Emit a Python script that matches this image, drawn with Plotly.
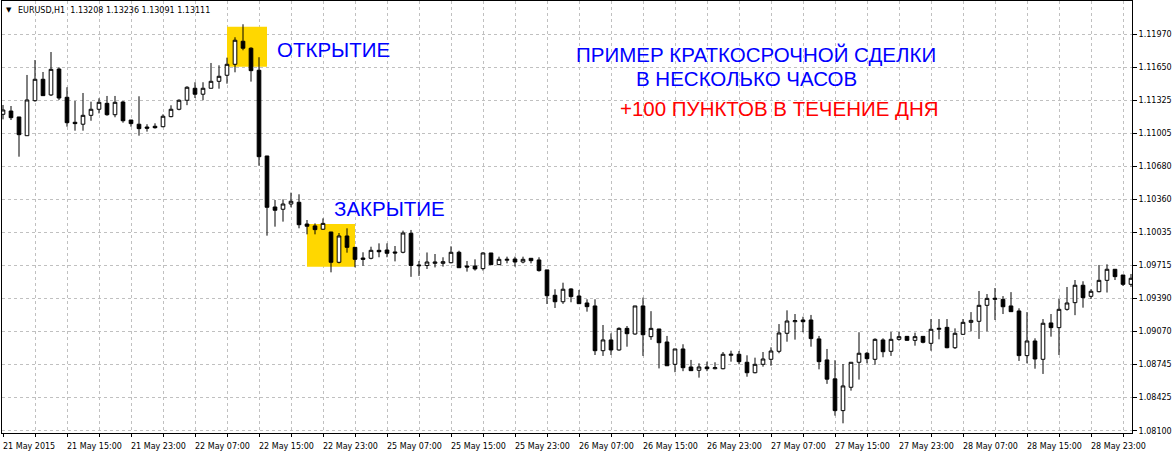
import plotly.graph_objects as go

# ---------------- data (EURUSD H1) ----------------
opens = [1.11189, 1.11221, 1.11163, 1.10980, 1.11322, 1.11531, 1.11378, 1.11631, 1.11355, 1.11111,
         1.11092, 1.11179, 1.11238, 1.11296, 1.11185, 1.11309, 1.11133, 1.11092, 1.11065, 1.11072,
         1.11068, 1.11166, 1.11238, 1.11326, 1.11443, 1.11385, 1.11443, 1.11511, 1.11570, 1.11677,
         1.11902, 1.11834, 1.11619, 1.10782, 1.10284, 1.10262, 1.10313, 1.10330, 1.10118, 1.10099,
         1.10067, 1.10040, 1.09744, 1.10001, 1.09890, 1.09786, 1.09783, 1.09861, 1.09864, 1.09845,
         1.09842, 1.10027, 1.09718, 1.09713, 1.09734, 1.09734, 1.09740, 1.09842, 1.09708, 1.09708,
         1.09682, 1.09835, 1.09721, 1.09764, 1.09776, 1.09747, 1.09783, 1.09767, 1.09670, 1.09422,
         1.09359, 1.09484, 1.09415, 1.09347, 1.09318, 1.08881, 1.08986, 1.08888, 1.09099, 1.09044,
         1.09318, 1.09018, 1.09093, 1.08966, 1.08748, 1.08898, 1.08722, 1.08690, 1.08722, 1.08705,
         1.08705, 1.08836, 1.08846, 1.08768, 1.08666, 1.08748, 1.08797, 1.08875, 1.09051, 1.09164,
         1.09181, 1.09181, 1.08996, 1.08791, 1.08606, 1.08296, 1.08524, 1.08768, 1.08856, 1.08797,
         1.08986, 1.08875, 1.08992, 1.09021, 1.08982, 1.09021, 1.08953, 1.09090, 1.09109, 1.08910,
         1.09041, 1.09158, 1.09168, 1.09324, 1.09382, 1.09382, 1.09318, 1.09269, 1.08833, 1.08976,
         1.08797, 1.09152, 1.09106, 1.09285, 1.09350, 1.09520, 1.09412, 1.09457, 1.09568, 1.09676,
         1.09620, 1.09529]
highs = [1.11280, 1.11270, 1.11163, 1.11573, 1.11719, 1.11602, 1.11797, 1.11647, 1.11453, 1.11319,
         1.11397, 1.11312, 1.11345, 1.11368, 1.11368, 1.11319, 1.11133, 1.11365, 1.11092, 1.11101,
         1.11189, 1.11277, 1.11335, 1.11463, 1.11502, 1.11502, 1.11690, 1.11667, 1.11742, 1.11941,
         1.12068, 1.11843, 1.11746, 1.10782, 1.10352, 1.10359, 1.10424, 1.10408, 1.10157, 1.10124,
         1.10173, 1.10040, 1.10030, 1.10076, 1.09890, 1.09842, 1.09896, 1.09929, 1.09929, 1.09903,
         1.10053, 1.10060, 1.09757, 1.09840, 1.09825, 1.09793, 1.09900, 1.09857, 1.09757, 1.09773,
         1.09842, 1.09835, 1.09799, 1.09799, 1.09799, 1.09799, 1.09783, 1.09793, 1.09670, 1.09481,
         1.09545, 1.09490, 1.09474, 1.09383, 1.09383, 1.09132, 1.09050, 1.09109, 1.09122, 1.09318,
         1.09399, 1.09267, 1.09093, 1.09025, 1.08898, 1.08944, 1.08791, 1.08758, 1.08774, 1.08768,
         1.08868, 1.08881, 1.08878, 1.08836, 1.08813, 1.08868, 1.08914, 1.09141, 1.09275, 1.09239,
         1.09213, 1.09230, 1.09025, 1.08898, 1.08788, 1.08751, 1.08768, 1.09061, 1.08868, 1.09002,
         1.09002, 1.09064, 1.09064, 1.09021, 1.09057, 1.09021, 1.09190, 1.09190, 1.09190, 1.09099,
         1.09190, 1.09258, 1.09464, 1.09434, 1.09493, 1.09414, 1.09453, 1.09295, 1.09258, 1.09002,
         1.09190, 1.09239, 1.09386, 1.09503, 1.09571, 1.09559, 1.09481, 1.09718, 1.09724, 1.09676,
         1.09620, 1.09630]
lows = [1.11140, 1.11133, 1.10775, 1.10980, 1.11312, 1.11371, 1.11368, 1.11329, 1.11068, 1.11029,
        1.11029, 1.11126, 1.11198, 1.11175, 1.11160, 1.11107, 1.11068, 1.10980, 1.11020, 1.11049,
        1.11062, 1.11160, 1.11228, 1.11278, 1.11348, 1.11326, 1.11443, 1.11439, 1.11488, 1.11599,
        1.11814, 1.11508, 1.10687, 1.10004, 1.10092, 1.10141, 1.10281, 1.10076, 1.10017, 1.10017,
        1.10060, 1.09646, 1.09734, 1.09838, 1.09695, 1.09710, 1.09773, 1.09793, 1.09793, 1.09753,
        1.09832, 1.09602, 1.09611, 1.09679, 1.09694, 1.09702, 1.09734, 1.09691, 1.09653, 1.09663,
        1.09663, 1.09721, 1.09718, 1.09734, 1.09702, 1.09734, 1.09734, 1.09653, 1.09337, 1.09298,
        1.09338, 1.09354, 1.09338, 1.09262, 1.08839, 1.08830, 1.08839, 1.08881, 1.08920, 1.09037,
        1.08830, 1.08987, 1.08708, 1.08734, 1.08671, 1.08681, 1.08686, 1.08618, 1.08681, 1.08699,
        1.08699, 1.08774, 1.08748, 1.08627, 1.08660, 1.08725, 1.08734, 1.08856, 1.08969, 1.08989,
        1.09061, 1.08920, 1.08699, 1.08557, 1.08247, 1.08172, 1.08491, 1.08599, 1.08758, 1.08744,
        1.08817, 1.08830, 1.08979, 1.08982, 1.08930, 1.08953, 1.08881, 1.08992, 1.08905, 1.08898,
        1.09034, 1.09070, 1.08996, 1.09070, 1.09181, 1.09239, 1.09262, 1.08781, 1.08758, 1.08705,
        1.08654, 1.09018, 1.08839, 1.09272, 1.09228, 1.09301, 1.09386, 1.09451, 1.09449, 1.09571,
        1.09513, 1.09504]
closes = [1.11231, 1.11156, 1.10990, 1.11329, 1.11531, 1.11371, 1.11628, 1.11348, 1.11107, 1.11098,
          1.11179, 1.11238, 1.11306, 1.11185, 1.11306, 1.11126, 1.11098, 1.11049, 1.11053, 1.11058,
          1.11170, 1.11238, 1.11326, 1.11453, 1.11385, 1.11443, 1.11511, 1.11560, 1.11677, 1.11912,
          1.11834, 1.11615, 1.10775, 1.10281, 1.10252, 1.10313, 1.10340, 1.10111, 1.10096, 1.10063,
          1.10124, 1.09744, 1.10001, 1.09890, 1.09773, 1.09773, 1.09861, 1.09847, 1.09832, 1.09835,
          1.10030, 1.09713, 1.09711, 1.09747, 1.09747, 1.09750, 1.09842, 1.09691, 1.09698, 1.09679,
          1.09835, 1.09721, 1.09773, 1.09773, 1.09747, 1.09773, 1.09760, 1.09663, 1.09418, 1.09359,
          1.09481, 1.09409, 1.09340, 1.09311, 1.08881, 1.08986, 1.08888, 1.09099, 1.09047, 1.09318,
          1.09037, 1.09099, 1.08959, 1.08734, 1.08898, 1.08715, 1.08686, 1.08722, 1.08705, 1.08715,
          1.08846, 1.08846, 1.08774, 1.08666, 1.08748, 1.08800, 1.08878, 1.09054, 1.09171, 1.09174,
          1.09164, 1.08999, 1.08774, 1.08603, 1.08296, 1.08537, 1.08768, 1.08856, 1.08803, 1.08992,
          1.08871, 1.08992, 1.09018, 1.08982, 1.09018, 1.08963, 1.09090, 1.09099, 1.08910, 1.09051,
          1.09158, 1.09177, 1.09324, 1.09392, 1.09392, 1.09310, 1.09262, 1.08833, 1.08976, 1.08800,
          1.09149, 1.09106, 1.09285, 1.09347, 1.09520, 1.09399, 1.09461, 1.09568, 1.09676, 1.09604,
          1.09529, 1.09588]

time_labels = ["21 May 2015", "21 May 15:00", "21 May 23:00", "22 May 07:00", "22 May 15:00",
               "22 May 23:00", "25 May 07:00", "25 May 15:00", "25 May 23:00", "26 May 07:00",
               "26 May 15:00", "26 May 23:00", "27 May 07:00", "27 May 15:00", "27 May 23:00",
               "28 May 07:00", "28 May 15:00", "28 May 23:00"]
label_step = 8  # bars between time labels

price_labels = ["1.08100", "1.08425", "1.08745", "1.09070", "1.09390", "1.09715", "1.10035",
                "1.10360", "1.10680", "1.11005", "1.11325", "1.11650", "1.11970"]

header_text = "EURUSD,H1\u00a0\u00a01.13208 1.13236 1.13091 1.13111"

# highlighted zones: (first bar, last bar, low price, high price)
zones = [(28, 33, 1.11654, 1.12044), (38, 44, 1.09701, 1.10118)]

notes = [
    dict(text="ОТКРЫТИЕ", bar=34.0, price=1.11820, color="#0000FF", anchor="left"),
    dict(text="ЗАКРЫТИЕ", bar=41.1, price=1.10266, color="#0000FF", anchor="left"),
    dict(text="ПРИМЕР КРАТКОСРОЧНОЙ СДЕЛКИ", bar=94.1, price=1.11771, color="#0000FF", anchor="center"),
    dict(text="В НЕСКОЛЬКО ЧАСОВ", bar=92.96, price=1.11537, color="#0000FF", anchor="center"),
    dict(text="+100 ПУНКТОВ В ТЕЧЕНИЕ ДНЯ", bar=97.0, price=1.11244, color="#FF0000", anchor="center"),
]

# ---------------- figure ----------------
bars = list(range(len(opens)))

fig = go.Figure()
fig.add_trace(go.Candlestick(
    x=bars, open=opens, high=highs, low=lows, close=closes,
    increasing=dict(line=dict(color="black", width=1), fillcolor="white"),
    decreasing=dict(line=dict(color="black", width=1), fillcolor="black"),
    whiskerwidth=0, hoverinfo="skip", showlegend=False,
))

grid_color = "#c0c0c0"
fig.update_layout(
    width=1175, height=452,
    margin=dict(l=2, r=43, t=1, b=19),
    paper_bgcolor="white", plot_bgcolor="white",
    showlegend=False, boxgap=0.35,
    font=dict(family="DejaVu Sans", size=8, color="black"),
)
fig.update_xaxes(
    range=[-0.125, len(opens) - 1 + 0.125],
    rangeslider_visible=False,
    showgrid=True, gridcolor=grid_color, gridwidth=1, griddash="dot",
    tick0=0, dtick=4, ticks="outside", ticklen=3, tickcolor="black",
    showticklabels=False,
    showline=True, linecolor="black", linewidth=1, mirror=True, zeroline=False,
)
fig.update_yaxes(
    side="right",
    range=[1.080775, 1.122951],
    tickvals=[float(s) for s in price_labels], ticktext=price_labels,
    showgrid=True, gridcolor=grid_color, gridwidth=1, griddash="dot",
    ticks="outside", ticklen=4, tickcolor="black",
    tickfont=dict(family="DejaVu Sans", size=8, color="black"),
    showline=True, linecolor="black", linewidth=1, mirror=True, zeroline=False,
)

for x0, x1, y0, y1 in zones:
    fig.add_shape(type="rect", xref="x", yref="y", x0=x0, x1=x1, y0=y0, y1=y1,
                  fillcolor="#FFD700", line=dict(width=0), layer="between")

for n in notes:
    fig.add_annotation(text=n["text"], x=n["bar"], y=n["price"], xref="x", yref="y",
                       xanchor=n["anchor"], yanchor="middle", showarrow=False,
                       font=dict(family="Liberation Sans", size=20.5, color=n["color"]))

for k, lab in enumerate(time_labels):
    fig.add_annotation(text=lab, x=k * label_step, y=0, xref="x", yref="paper",
                       xanchor="left", yanchor="top", yshift=-7, xshift=-2, showarrow=False,
                       font=dict(family="DejaVu Sans", size=8, color="black"))

fig.add_annotation(text="▼", x=0, y=1, xref="paper", yref="paper", xanchor="left", yanchor="top",
                   xshift=2, yshift=-3, showarrow=False,
                   font=dict(family="DejaVu Sans", size=7, color="black"))
fig.add_annotation(text=header_text, x=0, y=1, xref="paper", yref="paper", xanchor="left",
                   yanchor="top", xshift=14, yshift=-3, showarrow=False,
                   font=dict(family="DejaVu Sans", size=8, color="black"))

fig.write_html("out.html", config={"displayModeBar": False, "staticPlot": True},
               post_script="document.body.style.margin='0';")
